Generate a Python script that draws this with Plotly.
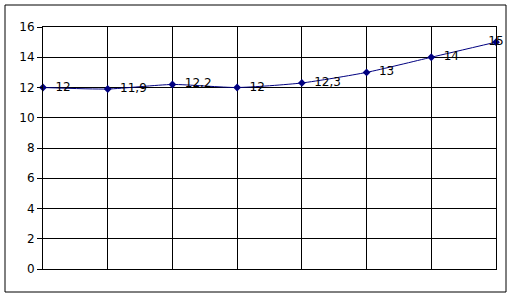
import plotly.graph_objects as go

x_vals = [0, 1, 2, 3, 4, 5, 6, 7]
y_vals = [12, 11.9, 12.2, 12, 12.3, 13, 14, 15]
labels = ["12", "11,9", "12,2", "12", "12,3", "13", "14", "15"]
y_ticks = [0, 2, 4, 6, 8, 10, 12, 14, 16]

W, H = 511, 297
L, R, T, B = 43, 15, 27, 28
pw, ph = W - L - R, H - T - B

positions = ["middle right"] * (len(x_vals) - 1) + ["middle center"]
templates = ["  %{text}"] * (len(x_vals) - 1) + ["%{text}"]

fig = go.Figure()
fig.add_trace(go.Scatter(
    x=x_vals, y=y_vals, mode="lines+markers+text",
    line=dict(color="#000080", width=1, shape="spline", smoothing=0.6),
    marker=dict(color="#000080", size=6, symbol="diamond"),
    text=labels, textposition=positions, texttemplate=templates,
    textfont=dict(family="DejaVu Sans", size=12, color="#000000"),
    cliponaxis=False, showlegend=False,
))

# outer chart border
fig.add_shape(type="rect", xref="paper", yref="paper",
              x0=(5 - L) / pw, x1=(506 - L) / pw,
              y0=(H - B - 292) / ph, y1=(H - B - 5) / ph,
              line=dict(color="#000000", width=1), layer="below")

fig.update_layout(
    width=W, height=H, margin=dict(l=L, r=R, t=T, b=B),
    paper_bgcolor="white", plot_bgcolor="white",
    xaxis=dict(range=[0, 7], tickvals=x_vals, showticklabels=False,
               showgrid=True, gridcolor="#000000", gridwidth=1,
               zeroline=False, showline=True, linecolor="#000000", mirror=True,
               ticks=""),
    yaxis=dict(range=[0, 16], tickvals=y_ticks, showgrid=True,
               gridcolor="#000000", gridwidth=1, zeroline=False,
               showline=True, linecolor="#000000", mirror=True,
               ticks="outside", ticklen=5, tickcolor="#000000",
               tickfont=dict(family="DejaVu Sans", size=12, color="#000000")),
    font=dict(family="DejaVu Sans", size=12, color="#000000"),
)

fig.write_html("out.html")
